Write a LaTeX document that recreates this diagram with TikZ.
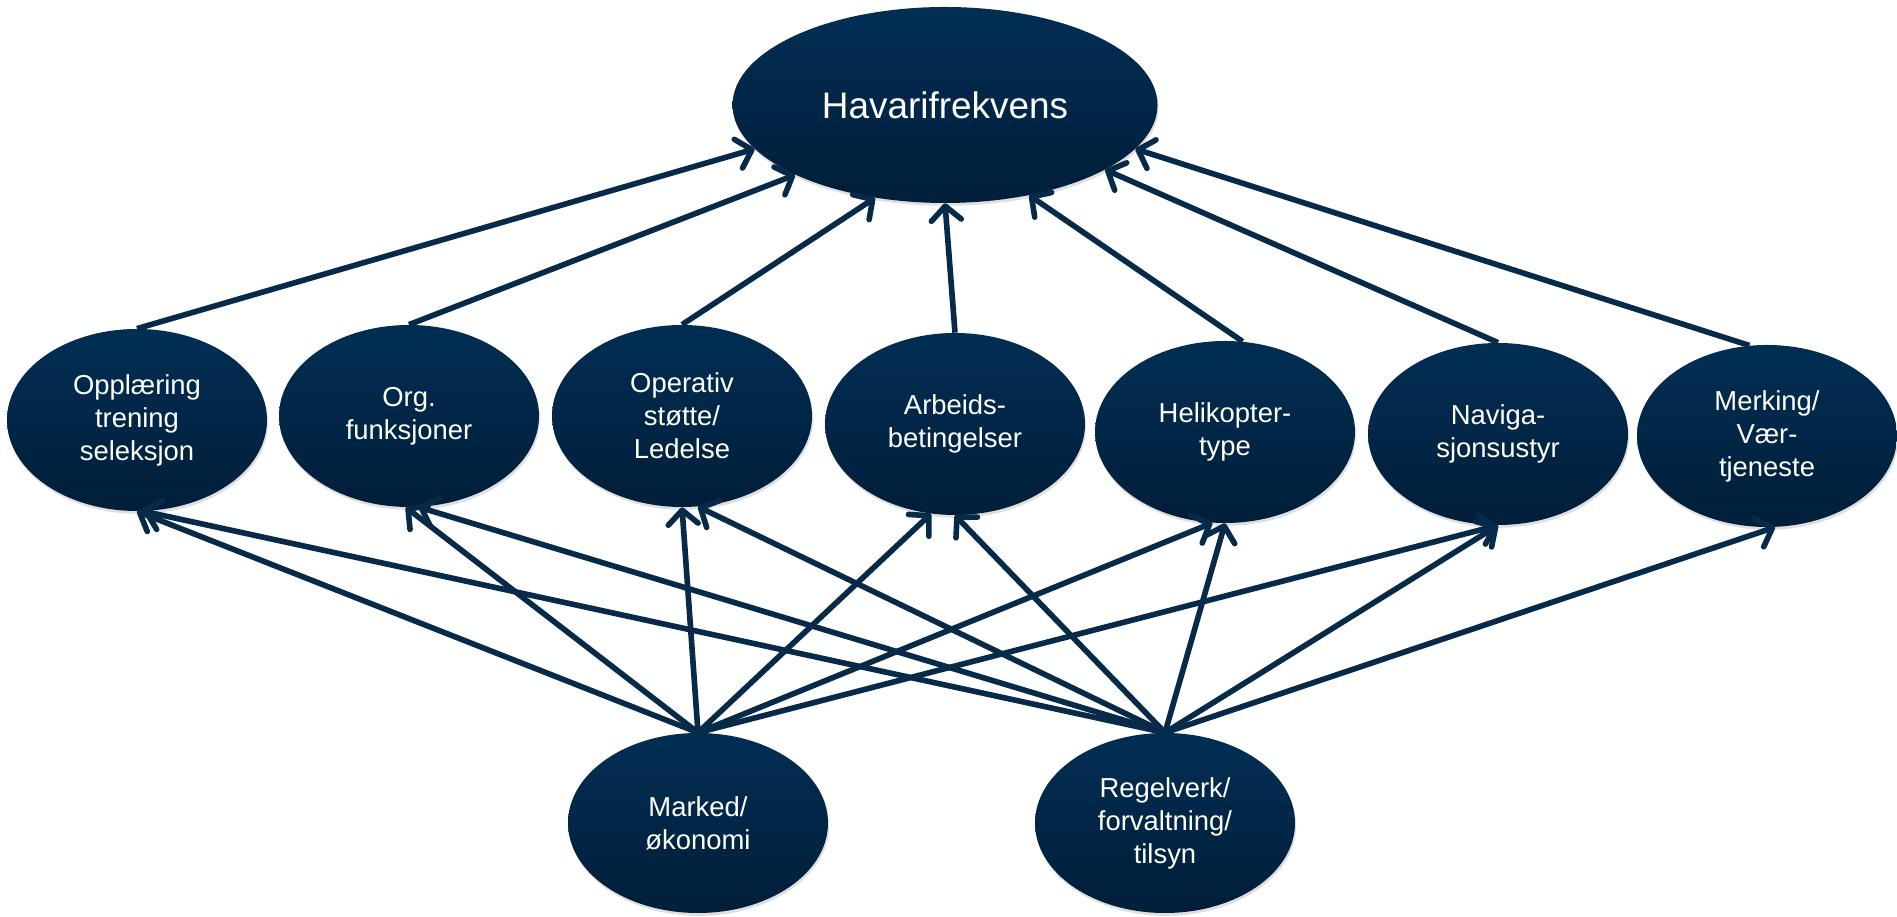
\documentclass[tikz,border=0pt]{standalone}
\usepackage{fontspec}
\setmainfont{Liberation Sans}
\usepackage{tikz}
\usetikzlibrary{shapes.geometric, arrows.meta, shadows}

\definecolor{navytop}{RGB}{2,46,84}
\definecolor{navybot}{RGB}{1,30,57}
\definecolor{linkblue}{RGB}{6,42,72}

\begin{document}
\begin{tikzpicture}[
    >={Straight Barb[length=8pt, width=17pt, round]},
    effect/.style={ellipse, top color=navytop, bottom color=navybot, draw=none, text=white, align=center, inner sep=0pt, minimum width=8.5cm, minimum height=3.92cm, font=\fontsize{21}{25}\selectfont, drop shadow={shadow xshift=0.6pt, shadow yshift=-1.6pt, opacity=0.25}},
    factor/.style={effect, minimum width=5.2cm, minimum height=3.64cm, font=\fontsize{15.6}{18.8}\selectfont},
    arrow/.style={->, line width=3.2pt, linkblue}
]
\useasboundingbox (0,0) rectangle (37.94,18.34);

\node[effect] (top) at (18.90, 16.24) {Havarifrekvens};

\node[factor] (opp) at (2.74, 9.94) {Opplæring\\trening\\seleksjon};
\node[factor] (org) at (8.18, 10.02) {Org.\\funksjoner};
\node[factor] (ope) at (13.64, 10.02) {Operativ\\støtte/\\Ledelse};
\node[factor] (arb) at (19.10, 9.86) {Arbeids-\\betingelser};
\node[factor] (hel) at (24.50, 9.70) {Helikopter-\\type};
\node[factor] (nav) at (29.96, 9.66) {Naviga-\\sjonsustyr};
\node[factor] (merk) at (35.34, 9.62) {Merking/\\Vær-\\tjeneste};

\node[factor, minimum height=3.6cm] (mark) at (13.96, 1.88) {Marked/\\økonomi};
\node[factor, minimum height=3.6cm] (reg) at (23.30, 1.88) {Regelverk/\\forvaltning/\\tilsyn};

% factors -> havarifrekvens
\draw[arrow] (opp.north) -- (top.193);
\draw[arrow] (org.north) -- (top.205);
\draw[arrow] (ope.north) -- (top.233);
\draw[arrow] (arb.north) -- (top.south);
\draw[arrow] (hel.79) -- (top.313);
\draw[arrow] (nav.north) -- (top.338);
\draw[arrow] (merk.101) -- (top.347);

% marked -> factors
\draw[arrow] (mark.north) -- (opp.south);
\draw[arrow] (mark.north) -- (org.268);
\draw[arrow] (mark.north) -- (ope.south);
\draw[arrow] (mark.north) -- (arb.255);
\draw[arrow] (mark.north) -- (hel.262);
\draw[arrow] (mark.north) -- (nav.south);

% regelverk -> factors
\draw[arrow] (reg.north) -- (opp.274);
\draw[arrow] (reg.north) -- (org.276);
\draw[arrow] (reg.north) -- (ope.280);
\draw[arrow] (reg.north) -- (arb.south);
\draw[arrow] (reg.north) -- (hel.south);
\draw[arrow] (reg.north) -- (nav.south);
\draw[arrow] (reg.north) -- (merk.275);

\end{tikzpicture}
\end{document}
